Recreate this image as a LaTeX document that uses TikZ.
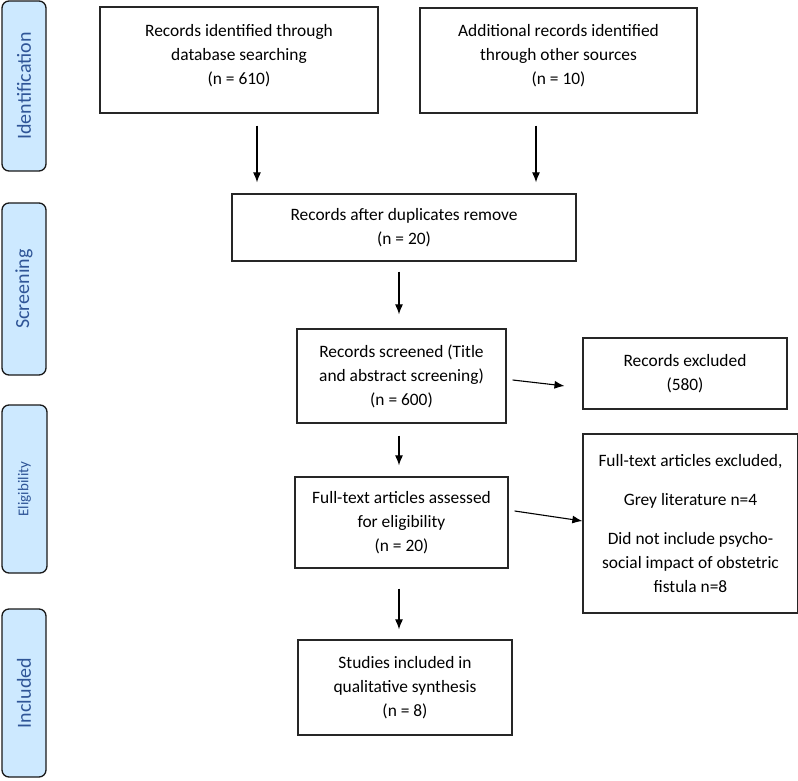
\documentclass[tikz,border=0pt]{standalone}
\usepackage{fontspec}
\setmainfont{Carlito}
\usepackage{tikz}
\usetikzlibrary{arrows.meta}
\definecolor{stagefill}{RGB}{205,233,255}
\definecolor{stagetext}{RGB}{47,85,151}

\begin{document}
\begin{tikzpicture}[x=1pt,y=-1pt,
    box/.style={rectangle,draw=black!85,line width=1.3pt,align=center,inner sep=2pt,
      font=\fontsize{17.4}{24}\selectfont},
    stage/.style={rectangle,rounded corners=7pt,draw=black!90,line width=1.3pt,
      fill=stagefill,text=stagetext,rotate=90,minimum height=44pt,
      font=\fontsize{20}{24}\selectfont},
    arr/.style={-{Latex[length=10pt,width=8pt]},line width=1.1pt}]

    \useasboundingbox (0,0) rectangle (798,780);

    % Stage labels on the left
    \node[stage,minimum width=170pt] (sIdent) at (24,86) {Identification};
    \node[stage,minimum width=172pt] (sScreen) at (24,289) {Screening};
    \node[stage,minimum width=168pt,minimum height=45pt,
      font=\fontsize{15}{17}\selectfont] (sElig) at (24.5,489) {Eligibility};
    \node[stage,minimum width=168pt] (sIncl) at (24,693) {Included};

    % Identification
    \node[box,minimum width=278pt,minimum height=106pt,text depth=12pt] (dbRec) at (239,60)
      {Records identified through\\database searching\\(n = 610)};
    \node[box,minimum width=277pt,minimum height=105pt,text depth=12pt] (otherRec) at (558.5,60.5)
      {Additional records identified\\through other sources\\(n = 10)};

    % Screening
    \node[box,minimum width=344pt,minimum height=67pt] (dupRec) at (404,227.5)
      {Records after duplicates remove\\(n = 20)};
    \node[box,minimum width=209pt,minimum height=94pt] (screenRec) at (401.5,376)
      {Records screened (Title\\and abstract screening)\\(n = 600)};
    \node[box,minimum width=204pt,minimum height=71pt] (exclRec) at (685,373.5)
      {Records excluded\\(580)};

    % Eligibility
    \node[box,minimum width=213pt,minimum height=91pt] (fullText) at (401.5,522.5)
      {Full-text articles assessed\\for eligibility\\(n = 20)};
    \node[box,minimum width=215pt,minimum height=179pt] (fullExcl) at (690.5,523.5)
      {Full-text articles excluded,\\[15pt]Grey literature n=4\\[15pt]Did not include psycho-\\social impact of obstetric\\fistula n=8};

    % Included
    \node[box,minimum width=214pt,minimum height=95pt] (incl) at (405,687.5)
      {Studies included in\\qualitative synthesis\\(n = 8)};

    % Arrows
    \draw[arr,shorten <=12pt,shorten >=11pt] ([xshift=18pt]dbRec.south)
      -- ([xshift=18pt]dbRec.south |- dupRec.north);
    \draw[arr,shorten <=12pt,shorten >=11pt] ([xshift=-22.5pt]otherRec.south)
      -- ([xshift=-22.5pt]otherRec.south |- dupRec.north);
    \draw[arr,shorten <=10pt,shorten >=14pt] ([xshift=-5pt]dupRec.south)
      -- ([xshift=-5pt]dupRec.south |- screenRec.north);
    \draw[arr,shorten <=6pt,shorten >=18pt] ([yshift=-3.3pt]screenRec.east)
      -- ([yshift=-14.5pt]exclRec.west);
    \draw[arr,shorten <=12pt,shorten >=11pt] ([xshift=-2.5pt]screenRec.south)
      -- ([xshift=-2.5pt]screenRec.south |- fullText.north);
    \draw[arr,shorten <=6pt] ([yshift=12.4pt]fullText.east)
      -- ([yshift=2.5pt]fullExcl.west);
    \draw[arr,shorten <=20pt,shorten >=10pt] ([xshift=-2.5pt]fullText.south)
      -- ([xshift=-2.5pt]fullText.south |- incl.north);
\end{tikzpicture}
\end{document}
